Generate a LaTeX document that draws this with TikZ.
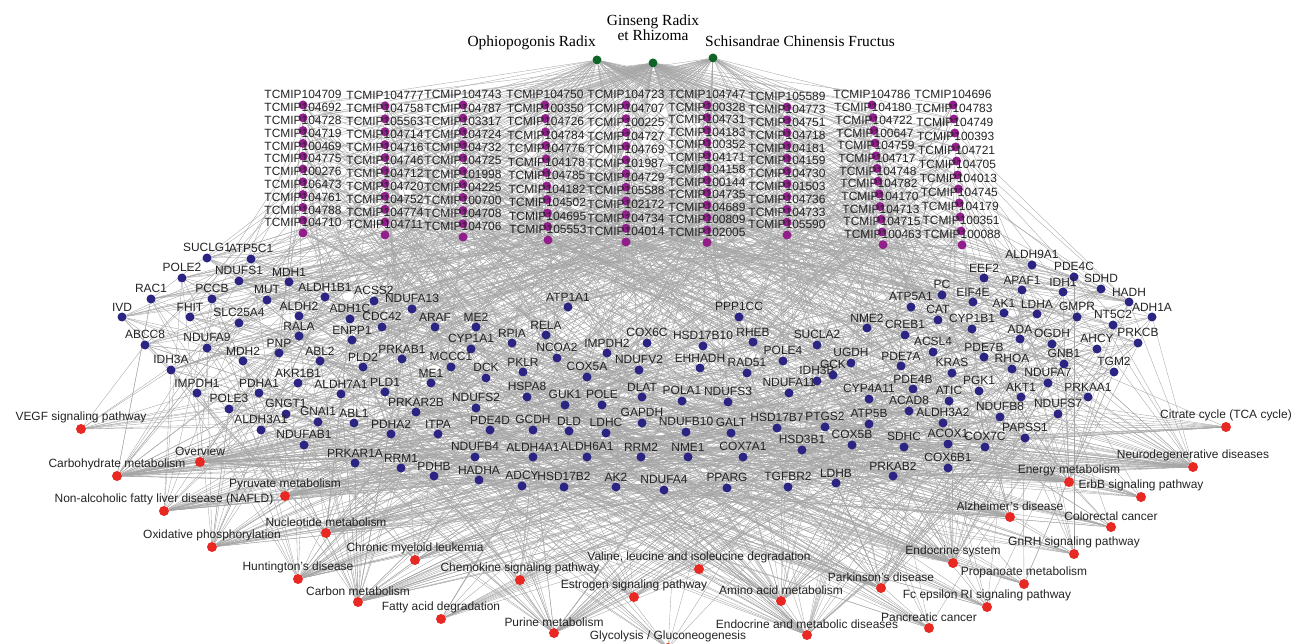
\documentclass[tikz,border=0pt]{standalone}
\usepackage{fontspec}
\setmainfont{Liberation Sans}
\newfontfamily\herbfont{Liberation Serif}
\pgfdeclarelayer{edges}
\pgfsetlayers{edges,main}
\definecolor{edgec}{RGB}{165,165,165}
\definecolor{genec}{RGB}{44,36,130}
\definecolor{cmpc}{RGB}{146,30,140}
\definecolor{herbc}{RGB}{16,100,40}
\definecolor{pathc}{RGB}{232,40,34}
\definecolor{txtc}{RGB}{35,35,35}
\newcommand\mkcol[6]{%
  \foreach \nm [count=\i] in {#6}{%
    \pgfmathsetmacro\xx{#2+(\i-1)*#3}%
    \pgfmathsetmacro\yy{#4+(\i-1)*#5}%
    \node[cmp] (c#1-\i) at (\xx,\yy) [label={[lbl]above:TCMIP\nm}] {};
  }%
}
\begin{document}
\begin{tikzpicture}[x=1bp,y=-1bp,
  gene/.style={circle,fill=genec,minimum size=9bp,inner sep=0pt},
  cmp/.style={circle,fill=cmpc,minimum size=9bp,inner sep=0pt},
  herb/.style={circle,fill=herbc,minimum size=9bp,inner sep=0pt},
  pwy/.style={circle,fill=pathc,minimum size=10bp,inner sep=0pt},
  lbl/.style={font=\fontsize{12}{12}\selectfont,text=txtc,inner sep=0pt},
  hlbl/.style={font=\herbfont\fontsize{15.5}{15}\selectfont,text=black,inner sep=0pt},
  lnk/.style={draw=edgec,line width=0.35bp},
  label distance=1bp]
\useasboundingbox (0,0) rectangle (1296,644);
\pgfmathsetseed{4242}

% herbs
\node[herb] (h1) at (597,60) {};
\node[herb] (h2) at (653,63) {};
\node[herb] (h3) at (713,58) {};
\node[hlbl,anchor=base east] (h1t) at (596,47) {Ophiopogonis Radix};
\node[hlbl,align=center] (h2t) at (653,28) {Ginseng Radix\\et Rhizoma};
\node[hlbl,anchor=base west] (h3t) at (705,47) {Schisandrae Chinensis Fructus};

% compounds
\mkcol{1}{303}{0}{105}{12.8}{104709,104692,104728,104719,100469,104775,100276,106473,104761,104788,104710}
\mkcol{2}{385}{0}{106}{12.9}{104777,104758,105563,104714,104716,104746,104712,104720,104752,104774,104711}
\mkcol{3}{463}{0}{105}{13.2}{104743,104787,103317,104724,104732,104725,101998,104225,100700,104708,104706}
\mkcol{4}{545}{0.3}{105}{13.5}{104750,100350,104726,104784,104776,104178,104785,104182,104502,104695,105553}
\mkcol{5}{626}{0}{105}{13.7}{104723,104707,100225,104727,104769,101987,104729,105588,102172,104734,104014}
\mkcol{6}{707}{0}{105}{12.5}{104747,100328,104731,104183,100352,104171,104158,100144,104735,104689,100809,102005}
\mkcol{7}{787}{0}{107}{12.8}{105589,104773,104751,104718,104181,104159,104730,101503,104736,104733,105590}
\mkcol{8}{872}{1.0}{105}{12.7}{104786,104180,104722,100647,104759,104717,104748,104782,104170,104713,104715,100463}
\mkcol{9}{953}{0.9}{105}{14}{104696,104783,104749,100393,104721,104705,104013,104745,104179,100351,100088}

% genes
\foreach \nm/\x/\y [count=\i] in {
SUCLG1/207/258, ATP5C1/251/259, POLE2/182/278, NDUFS1/239/281, MDH1/289/282,
RAC1/151/299, PCCB/212/299, MUT/267/300, ALDH1B1/325/297, ACSS2/374/301,
NDUFA13/412/309, IVD/122/317, FHIT/190/317, SLC25A4/239/323, ALDH2/299/316,
ADH1C/350/319, CDC42/382/327, ARAF/435/327, ME2/476/327, RALA/299/336,
ENPP1/352/340, ABCC8/145/345, NDUFA9/207/348, MDH2/243/361, PNP/279/353,
ABL2/320/361, PLD2/363/367, PRKAB1/402/359, CYP1A1/471/349, MCCC1/451/367,
DCK/486/378, IDH3A/171/370, AKR1B1/298/383, ME1/431/383, IMPDH1/197/393,
PDHA1/259/393, ALDH7A1/341/394, PLD1/385/392, POLE3/229/409, GNGT1/286/414,
PRKAR2B/416/412, NDUFS2/476/408, ALDH3A1/261/430, GNAI1/318/422, ABL1/354/423,
PDHA2/391/434, ITPA/438/434, PDE4D/490/430, NDUFAB1/304/445, PRKAR1A/355/463,
RRM1/401/468, PDHB/434/476, NDUFB4/475/457, HADHA/479/480, ADCY/522/486,
HSD17B2/564/487, AK2/616/487, ALDH4A1/533/457, ALDH6A1/587/457, RRM2/641/457,
NME1/688/457, COX7A1/743/457, NDUFA4/664/490, PPARG/727/488, TGFBR2/788/487,
LDHB/836/483, PRKAB2/893/476, COX6B1/948/468, GCDH/533/430, DLD/569/431,
LDHC/606/433, GAPDH/642/423, NDUFB10/686/432, GALT/731/433, HSD17B7/777/428,
PTGS2/825/427, ATP5B/869/424, HSD3B1/802/450, COX5B/852/445, SDHC/904/447,
ACOX1/948/444, COX7C/985/447, PAPSS1/1025/438, ACAD8/909/411, ALDH3A2/943/423,
NDUFB8/1000/417, NDUFS7/1058/414, HSPA8/527/397, GUK1/565/405, POLE/602/405,
DLAT/642/397, POLA1/682/401, NDUFS3/728/402, NDUFA11/789/393, CYP4A11/869/399,
PKLR/523/372, COX5A/587/377, NDUFV2/639/370, EHHADH/700/368, RAD51/747/373,
IDH3B/817/381, GCK/833/375, POLE4/783/361, UGDH/851/363, RPIA/512/343,
RELA/546/335, NCOA2/557/358, IMPDH2/607/353, COX6C/647/343, HSD17B10/703/346,
RHEB/753/342, SUCLA2/817/345, ATP1A1/568/307, PPP1CC/739/317, NME2/867/328,
CREB1/905/335, ATP5A1/911/307, PC/942/295, EIF4E/973/302, CAT/938/320,
CYP1B1/972/329, EEF2/984/278, ALDH9A1/1032/265, APAF1/1022/290, PDE4C/1074/277,
IDH1/1063/292, SDHD/1101/289, HADH/1129/302, AK1/1004/313, LDHA/1037/314,
GMPR/1077/317, NT5C2/1113/325, ADH1A/1152/317, ADA/1020/339, OGDH/1052/344,
AHCY/1097/349, PRKCB/1138/343, ACSL4/933/352, PDE7A/901/366, PDE7B/984/357,
RHOA/1012/369, KRAS/952/373, GNB1/1064/364, TGM2/1114/372, NDUFA7/1048/383,
PDE4B/913/389, PGK1/979/391, AKT1/1021/397, PRKAA1/1088/397, ATIC/949/401}{
  \node[gene] (g\i) at (\x,\y) [label={[lbl]above:\nm}] {};
  \xdef\NG{\i}
}

% pathways
\foreach \nm/\x/\y [count=\i] in {
Overview/200/462, Carbohydrate metabolism/117/476, Oxidative phosphorylation/212/547,
Nucleotide metabolism/326/533, Pyruvate metabolism/285/496,
Non-alcoholic fatty liver disease (NAFLD)/164/511, Huntington's disease/298/579,
Carbon metabolism/358/602, Purine metabolism/554/633, Amino acid metabolism/781/601,
Endocrine and metabolic diseases/807/635, Endocrine system/953/563,
Parkinson's disease/881/588, Alzheimer's disease/1010/517, Energy metabolism/1069/482,
Neurodegenerative diseases/1193/467, VEGF signaling pathway/81/429,
Chronic myeloid leukemia/415/560, Chemokine signaling pathway/520/580,
Fatty acid degradation/441/619, Estrogen signaling pathway/634/597,
{Valine, leucine and isoleucine degradation}/699/569,
{Glycolysis / Gluconeogenesis}/668/648, Pancreatic cancer/929/628,
Fc epsilon RI signaling pathway/987/607, Propanoate metabolism/1024/584,
GnRH signaling pathway/1074/554, Colorectal cancer/1111/527,
ErbB signaling pathway/1141/497, Citrate cycle (TCA cycle)/1226/427}{
  \node[pwy] (p\i) at (\x,\y) [label={[lbl]above:{\nm}}] {};
}

\begin{pgfonlayer}{edges}
\foreach \c/\n in {1/11,2/11,3/11,4/11,5/11,6/12,7/11,8/12,9/11}{
  \foreach \r in {1,...,\n}{
    \draw[lnk] (h2) -- (c\c-\r);
    \pgfmathsetmacro\u{rnd}
    \ifdim\u pt<0.45pt \draw[lnk] (h1) -- (c\c-\r); \fi
    \pgfmathsetmacro\u{rnd}
    \ifdim\u pt<0.45pt \draw[lnk] (h3) -- (c\c-\r); \fi
    \foreach \k in {1,...,8}{
      \pgfmathtruncatemacro\j{random(1,\NG)}
      \draw[lnk] (c\c-\r) -- (g\j);
    }
  }
}
\foreach \i in {1,...,\NG}{
  \foreach \k in {1,2,3}{
    \pgfmathtruncatemacro\j{random(1,30)}
    \draw[lnk] (g\i) -- (p\j);
  }
  \foreach \k in {1,2,3}{
    \pgfmathtruncatemacro\j{random(1,16)}
    \draw[lnk] (g\i) -- (p\j);
  }
}
\end{pgfonlayer}
\end{tikzpicture}
\end{document}
